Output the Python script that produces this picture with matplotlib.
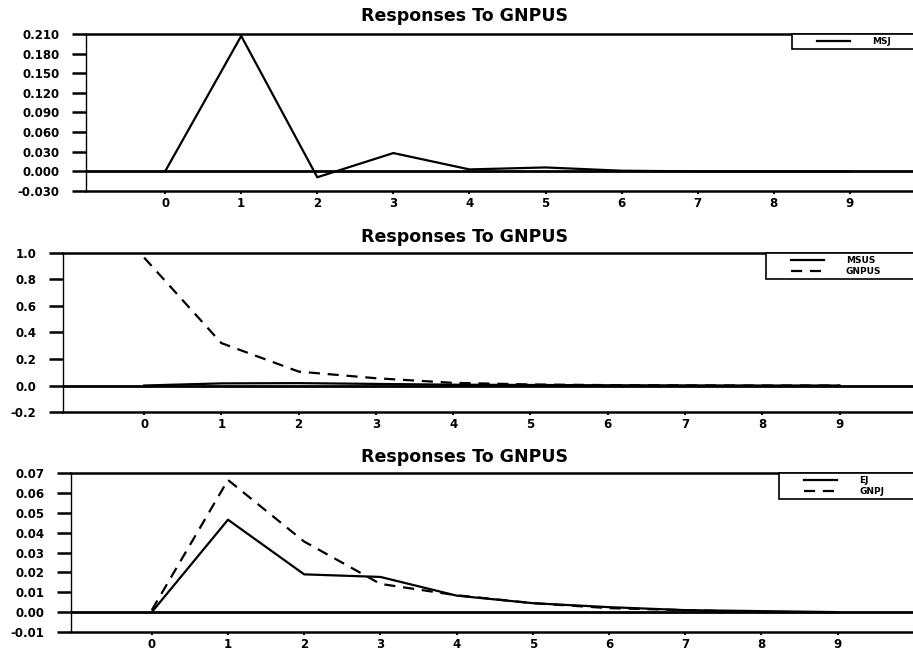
import numpy as np
import matplotlib.pyplot as plt
from matplotlib.ticker import FormatStrFormatter
from matplotlib.legend_handler import HandlerLine2D
from matplotlib.lines import Line2D

plt.rcParams['font.family'] = 'DejaVu Sans'
plt.rcParams['font.weight'] = 'bold'

periods = np.arange(0, 10)

# impulse responses to a GNPUS shock
msj = [0.0, 0.207, -0.009, 0.028, 0.003, 0.006, 0.001, 0.0, 0.0, 0.0]
msus = [0.0, 0.016, 0.018, 0.012, 0.006, 0.004, 0.002, 0.001, 0.0, 0.0]
gnpus = [0.965, 0.32, 0.105, 0.055, 0.02, 0.008, 0.003, 0.001, 0.0, 0.0]
ej = [0.0, 0.0465, 0.019, 0.0177, 0.0083, 0.0045, 0.0025, 0.001, 0.0005, 0.0]
gnpj = [0.001, 0.0665, 0.0355, 0.0142, 0.0085, 0.0045, 0.002, 0.001, 0.0, 0.0]

title = 'Responses To GNPUS'

fig = plt.figure(figsize=(9.13, 6.51), dpi=100)

panels = [
    # rect, xlim, yticks, fmt, title baseline, legend left edge (axes fraction)
    ([0.0942, 0.7066, 0.9058, 0.2412], (-1.04, 9.83), np.arange(-0.03, 0.2101, 0.03), '%.3f', 0.9677, 0.854),
    ([0.0690, 0.3671, 0.9310, 0.2443], (-1.05, 9.95), np.arange(-0.2, 1.001, 0.2), '%.1f', 0.6283, 0.827),
    ([0.0778, 0.0292, 0.9222, 0.2442], (-1.06, 9.99), np.arange(-0.01, 0.0701, 0.01), '%.2f', 0.2903, 0.841),
]

series = [
    [(msj, '-', 'MSJ')],
    [(msus, '-', 'MSUS'), (gnpus, '--', 'GNPUS')],
    [(ej, '-', 'EJ'), (gnpj, '--', 'GNPJ')],
]

dash = (0, (5, 3.5))

for (rect, xlim, yt, fmt, ty, lx), lines in zip(panels, series):
    ax = fig.add_axes(rect)
    ax.axhline(0, color='black', lw=2.0, zorder=1)
    for vals, ls, lab in lines:
        style = dash if ls == '--' else '-'
        ax.plot(periods, vals, color='black', lw=1.6, ls=style, label=lab, zorder=3)
    ax.set_xlim(*xlim)
    ax.set_ylim(yt[0], yt[-1])
    ax.set_yticks(yt)
    ax.yaxis.set_major_formatter(FormatStrFormatter(fmt))
    ax.set_xticks(periods)
    ax.spines['right'].set_visible(False)
    ax.spines['top'].set_linewidth(1.8)
    ax.spines['bottom'].set_linewidth(1.8)
    ax.spines['left'].set_linewidth(1.0)
    ax.tick_params(axis='y', direction='out', length=10, width=1.8, pad=9, labelsize=8.5)
    ax.tick_params(axis='x', direction='out', length=2, width=1.5, pad=2, labelsize=8.5)
    for lbl in ax.get_xticklabels() + ax.get_yticklabels():
        lbl.set_fontweight('bold')
    # legend box runs from lx to the right edge of the axes
    leg = ax.legend(loc='upper left', bbox_to_anchor=(lx, 0.0, 1.0 - lx + 0.01, 1.0),
                    mode='expand', borderaxespad=0,
                    fancybox=False, framealpha=1, edgecolor='black',
                    prop={'size': 6.5, 'weight': 'bold'}, handlelength=6.1,
                    handletextpad=2.4, borderpad=0.35, labelspacing=0.2,
                    handler_map={Line2D: HandlerLine2D(xpad=2.4)})
    leg.get_frame().set_linewidth(1.2)
    fig.text(0.509, ty, title, ha='center', va='baseline', fontsize=12.5, fontweight='bold')

fig.savefig('out.png', dpi=100)
